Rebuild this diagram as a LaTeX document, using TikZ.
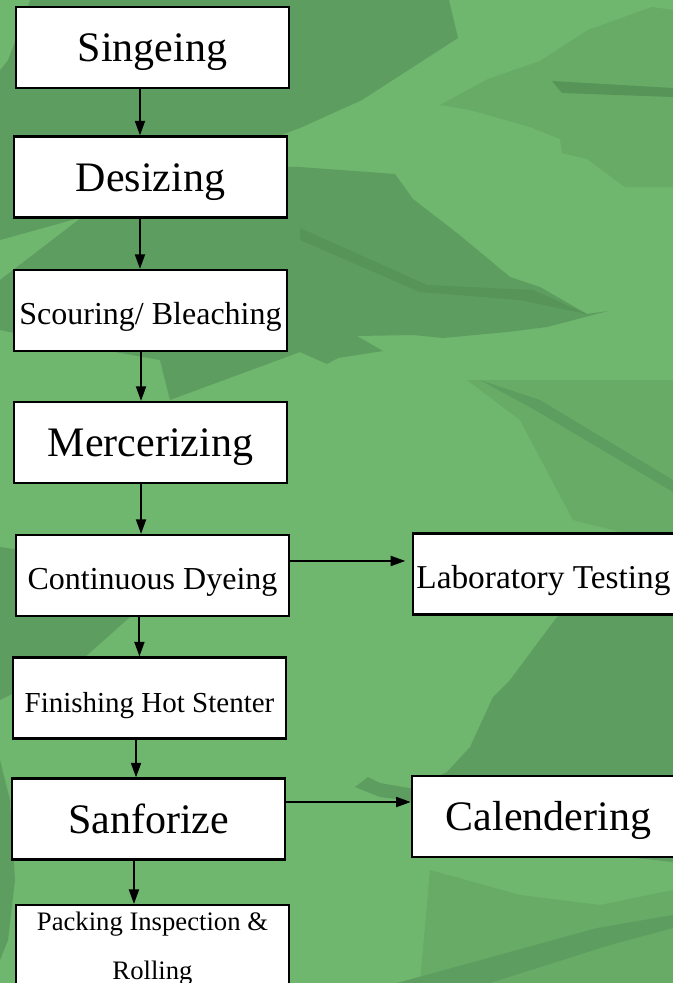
\documentclass[tikz,border=0pt]{standalone}
\usepackage{fontspec}
\setmainfont{Liberation Serif}
\usepackage{xcolor}
\usetikzlibrary{
    arrows.meta,
    positioning,
    calc
}
\definecolor{leafbg}{RGB}{111,182,110}
\definecolor{leafmd}{RGB}{103,171,102}
\definecolor{leafdk}{RGB}{94,157,96}
\definecolor{leafvd}{RGB}{86,148,88}
\tikzset{%
    >={Triangle[length=11pt,width=7.5pt]},
    % Specifications for style of nodes:
    box/.style = {
        rectangle, draw=black, line width=1.6pt,
        fill=white, inner sep=0pt,
        minimum width=205pt, minimum height=60.75pt
    },
    stage/.style = {box, text height=21pt, text depth=0pt},
    bigtext/.style = {font=\fontsize{31.5}{36}\selectfont},
    midtext/.style = {font=\fontsize{24}{28}\selectfont},
    flow/.style = {->, line width=1.5pt},
    leaf/.style = {fill=leafdk, draw=none}
}

\begin{document}
\begin{tikzpicture}[x=0.75pt, y=-0.75pt]
    \useasboundingbox (0,0) rectangle (673,983);
    \clip (0,0) rectangle (673,983);
    % background leaves
    \fill[leafbg] (0,0) rectangle (673,983);
    \fill[leaf] (0,0) -- (449,0) -- (458,38) -- (362,100) -- (300,128) -- (200,165) -- (90,215) -- (0,240) -- cycle;
    \fill[leafbg] (0,0) -- (30,0) -- (8,60) -- (0,70) -- cycle;
    \fill[leafmd] (652,7) -- (673,10) -- (673,187) -- (625,187) -- (587,159) -- (562,153) -- (560,139) -- (530,127) -- (470,110) -- (440,105) -- (488,79) -- (540,61) -- (588,30) -- cycle;
    \fill[leafvd] (552,81) -- (673,88) -- (673,97) -- (562,93) -- cycle;
    \fill[leaf] (150,165) -- (300,167) -- (395,174) -- (413,199) -- (457,233) -- (510,277) -- (540,287) -- (587,314) -- (608,311) -- (547,327) -- (507,332) -- (443,338) -- (413,335) -- (357,336) -- (383,351) -- (338,358) -- (327,364) -- (300,352) -- (170,400) -- (160,360) -- (47,340) -- (0,330) -- (0,280) -- cycle;
    \fill[leafvd] (300,228) -- (427,285) -- (533,290) -- (587,314) -- (520,300) -- (420,292) -- (300,240) -- cycle;
    \fill[leafmd] (467,380) -- (520,420) -- (557,490) -- (573,520) -- (673,545) -- (673,380) -- cycle;
    \fill[leafdk] (480,380) -- (540,400) -- (673,480) -- (673,492) -- (535,410) -- cycle;
    \fill[leaf] (673,570) -- (600,600) -- (557,617) -- (510,680) -- (493,697) -- (470,747) -- (447,772) -- (412,790) -- (500,830) -- (627,857) -- (673,862) -- cycle;
    \fill[leaf] (355,787) -- (368,777) -- (380,783) -- (420,790) -- (420,802) -- (380,797) -- cycle;
    \fill[leafmd] (430,870) -- (520,895) -- (600,905) -- (673,890) -- (673,983) -- (420,983) -- cycle;
    \fill[leafdk] (397,983) -- (597,928) -- (673,915) -- (673,928) -- (610,945) -- (490,983) -- cycle;
    \fill[leaf] (0,547) -- (40,553) -- (130,617) -- (85,657) -- (20,690) -- (0,700) -- cycle;
    \fill[leaf] (0,760) -- (10,800) -- (15,880) -- (8,940) -- (0,960) -- cycle;

    % process chart
    \node[stage, bigtext] (sing) at (152.5,47.5) {Singeing};
    \node[stage, bigtext] (desz) at (150.5,177) {Desizing};
    \node[stage, midtext] (scour) at (150.5,310.5) {Scouring/ Bleaching};
    \node[stage, bigtext] (merc) at (150.5,442.5) {Mercerizing};
    \node[stage, midtext] (dye) at (152.5,575.5) {Continuous Dyeing};
    \node[stage, font=\fontsize{25}{29}\selectfont, text width=200pt, align=flush left, inner xsep=2.5pt,
          anchor=west] (lab) at (412,574) {Laboratory Testing};
    \node[stage, font=\fontsize{21.75}{26}\selectfont] (fin) at (149.5,698) {Finishing Hot Stenter};
    \node[stage, bigtext] (sanf) at (148.5,819) {Sanforize};
    \node[stage, bigtext] (cal) at (548.5,816.5) {Calendering};
    \node[box, anchor=north, text width=200pt, align=flush center, inner ysep=5pt,
          font=\fontsize{20}{36.75}\selectfont] (pack) at (152.5,904) {Packing Inspection \&\\Rolling};

    \draw[flow] ([xshift=-9.4pt]sing.south) -- ([xshift=-9.4pt]sing.south |- desz.north);
    \draw[flow] ([xshift=-7.9pt]desz.south) -- ([xshift=-7.9pt]desz.south |- scour.north);
    \draw[flow] ([xshift=-7.1pt]scour.south) -- ([xshift=-7.1pt]scour.south |- merc.north);
    \draw[flow] ([xshift=-7.1pt]merc.south) -- ([xshift=-7.1pt]merc.south |- dye.north);
    \draw[flow] ([xshift=-9.8pt]dye.south) -- ([xshift=-9.8pt]dye.south |- fin.north);
    \draw[flow] ([xshift=-10.1pt]fin.south) -- ([xshift=-10.1pt]fin.south |- sanf.north);
    \draw[flow] ([xshift=-10.9pt]sanf.south) -- ([xshift=-10.9pt]sanf.south |- pack.north);
    \draw[flow, shorten >=5pt] ([yshift=10.9pt]dye.east) -- ([yshift=10.9pt]dye.east -| lab.west);
    \draw[flow] ([yshift=12.75pt]sanf.east) -- ([yshift=12.75pt]sanf.east -| cal.west);
\end{tikzpicture}
\end{document}
